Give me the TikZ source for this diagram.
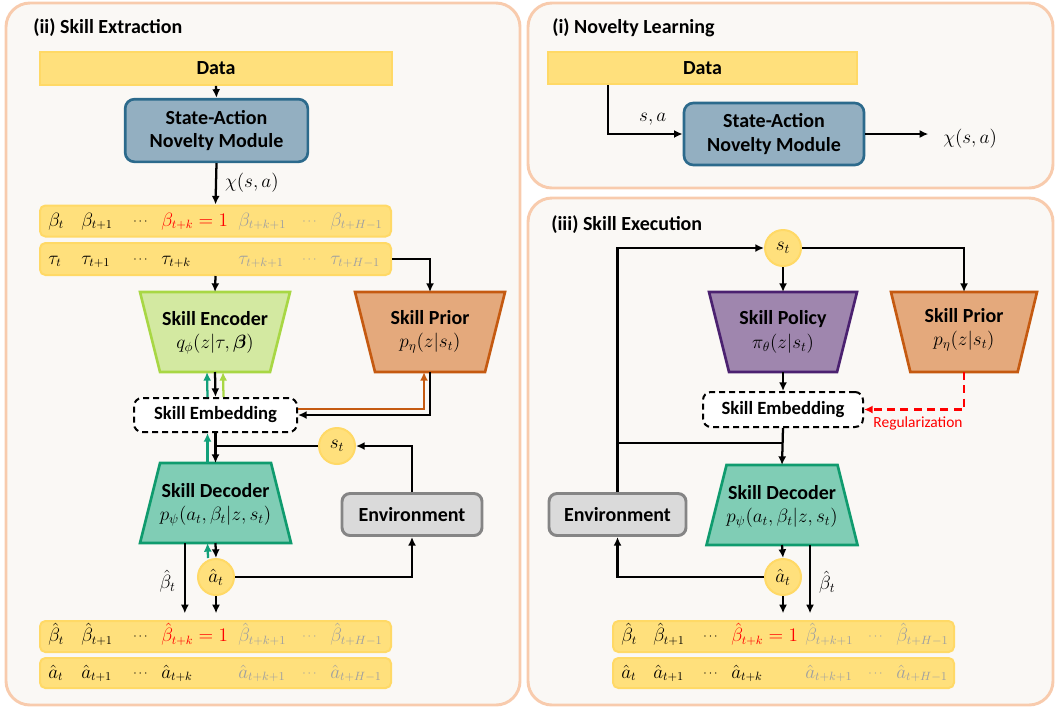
\documentclass[tikz,border=0pt]{standalone}
\usepackage{amsmath}
\usepackage{fontspec}
\setmainfont{Carlito}
\usetikzlibrary{arrows.meta,calc}
\definecolor{panelb}{HTML}{F8CBAD}
\definecolor{panelf}{HTML}{FAF8F5}
\definecolor{yel}{HTML}{FFE07C}
\definecolor{yelb}{HTML}{FFD966}
\definecolor{novf}{HTML}{93AFC1}
\definecolor{novb}{HTML}{2C6A8C}
\definecolor{encf}{HTML}{D3E9A1}
\definecolor{encb}{HTML}{A8D744}
\definecolor{prif}{HTML}{E4A97C}
\definecolor{prib}{HTML}{C55A11}
\definecolor{decf}{HTML}{80CDB5}
\definecolor{decb}{HTML}{0F9B6E}
\definecolor{polf}{HTML}{9F86AE}
\definecolor{polb}{HTML}{4B2170}
\definecolor{envf}{HTML}{DADADA}
\definecolor{envb}{HTML}{858585}
\definecolor{grn}{HTML}{12A07A}
\definecolor{fade}{HTML}{A0A0A0}
\definecolor{regred}{HTML}{FF0000}
\tikzset{
  panel/.style={draw=panelb, fill=panelf, line width=2.2pt, rounded corners=18pt},
  ptitle/.style={anchor=west, font=\bfseries\fontsize{15}{18}\selectfont, inner sep=0pt},
  databar/.style={fill=yel, draw=yelb, line width=1.2pt, font=\bfseries\fontsize{15}{18}\selectfont},
  rowbar/.style={fill=yel, draw=yelb, line width=1.5pt, rounded corners=4pt, minimum width=263.25pt, minimum height=23.25pt},
  novbox/.style={fill=novf, draw=novb, line width=2pt, rounded corners=7pt, align=center, font=\bfseries\fontsize{15}{17.5}\selectfont, minimum width=137pt, minimum height=47pt},
  frame/.style={draw=none, outer sep=0pt, inner sep=0pt, minimum height=60pt},
  lbl/.style={align=center, font=\bfseries\fontsize{15}{17.5}\selectfont, inner sep=0pt},
  embbox/.style={fill=white, draw=black, line width=1.5pt, dash pattern=on 4.5pt off 3pt, rounded corners=6pt, font=\bfseries\fontsize{14}{17}\selectfont},
  envbox/.style={fill=envf, draw=envb, line width=2.2pt, rounded corners=6pt, font=\bfseries\fontsize{15}{18}\selectfont, minimum height=31.5pt},
  circ/.style={circle, fill=yel, draw=yelb, line width=1.5pt, minimum size=27pt, inner sep=0pt, font=\fontsize{14.5}{16}\selectfont},
  item/.style={anchor=base west, inner sep=0pt, font=\fontsize{13.5}{15}\selectfont},
  arr/.style={-{Latex[length=6.5pt,width=6pt]}, line width=1.7pt, black},
  plain/.style={line width=1.7pt, black},
  garr/.style={arr, draw=grn, -{Latex[length=6.5pt,width=6pt,fill=grn]}},
  larr/.style={arr, draw=encb, -{Latex[length=6.5pt,width=6pt,fill=encb]}},
  oarr/.style={arr, draw=prib, -{Latex[length=6.5pt,width=6pt,fill=prib]}},
  rarr/.style={draw=regred, line width=2pt, dash pattern=on 6pt off 4pt, -{Latex[length=6.5pt,width=6pt,fill=regred]}},
  mlab/.style={font=\fontsize{14.5}{16}\selectfont},
}
\newcommand\trapwide[3]{\draw[#2] (#1.north west) -- (#1.north east) -- ([xshift=-#3]#1.south east) -- ([xshift=#3]#1.south west) -- cycle;}
\newcommand\trapnarrow[3]{\draw[#2] ([xshift=#3]#1.north west) -- ([xshift=-#3]#1.north east) -- (#1.south east) -- (#1.south west) -- cycle;}
\newcommand\fillrow[2]{\foreach \dx/\txt/\col [count=\i] in {#2} {\node[item, text=\col] (#1-\i) at ([xshift=\dx*0.75, yshift=-3.75pt]#1.west) {\txt};}}
\newcommand\sdots{\raisebox{1.2pt}{\fontsize{9.5}{10}\selectfont$\cdots$}}
\begin{document}
\begin{tikzpicture}[x=0.75pt,y=-0.75pt]
\useasboundingbox (0,0) rectangle (1055,711);
% panels
\draw[panel] (6,3) rectangle (520,705);
\draw[panel] (528,3) rectangle (1053,188);
\draw[panel] (528,198) rectangle (1053,705);
\node[ptitle] (t2) at (33,28) {(ii) Skill Extraction};
\node[ptitle] (t1) at (552,28) {(i) Novelty Learning};
\node[ptitle] (t3) at (551,225) {(iii) Skill Execution};

% ================= (ii) Skill Extraction =================
\node[databar, minimum width=264pt, minimum height=24.75pt] (datal) at (216,68.5) {Data};
\node[novbox] (novl) at (216.5,130.5) {State-Action\\Novelty Module};
\node[rowbar] (betal) at (215.5,221) {};
\node[rowbar, minimum height=24pt] (taul) at (215.5,259) {};
\fillrow{betal}{9/{$\beta_t$}/black, 42/{$\beta_{t+1}$}/black, 94/{\sdots}/black, 122/{$\beta_{t+k}=1$}/regred, 199/{$\beta_{t+k+1}$}/fade, 263/{\sdots}/fade, 291/{$\beta_{t+H-1}$}/fade}
\fillrow{taul}{9/{$\tau_t$}/black, 42/{$\tau_{t+1}$}/black, 94/{\sdots}/black, 122/{$\tau_{t+k}$}/black, 199/{$\tau_{t+k+1}$}/fade, 263/{\sdots}/fade, 291/{$\tau_{t+H-1}$}/fade}

\node[frame, minimum width=112.5pt] (enc) at (215,332) {};
\trapwide{enc}{fill=encf, draw=encb, line width=2pt}{15pt}
\node[lbl] (enc-t) at (215,333) {Skill Encoder\\{\mdseries\fontsize{14.5}{17}\selectfont $q_\phi(z|\tau,\boldsymbol{\beta})$}};

\node[frame, minimum width=112.5pt] (priorl) at (430,332) {};
\trapwide{priorl}{fill=prif, draw=prib, line width=2pt}{15pt}
\node[lbl] (priorl-t) at (430,332) {Skill Prior\\{\mdseries\fontsize{14.5}{17}\selectfont $p_\eta(z|s_t)$}};

\node[embbox, minimum width=122.25pt, minimum height=25.5pt] (embl) at (215.5,415) {Skill Embedding};
\node[circ] (stl) at (337,446) {$s_t$};
\node[envbox, minimum width=105pt] (envl) at (412,514.5) {Environment};

\node[frame, minimum width=113.25pt] (decl) at (215.5,503) {};
\trapnarrow{decl}{fill=decf, draw=decb, line width=2pt}{15pt}
\node[lbl] (decl-t) at (215.5,505) {Skill Decoder\\{\mdseries\fontsize{14.5}{17}\selectfont $p_\psi(a_t,\beta_t|z,s_t)$}};

\node[circ] (atl) at (216,577) {$\hat{a}_t$};
\node[rowbar] (bhatl) at (215.5,636.5) {};
\node[rowbar, minimum height=22.5pt] (ahatl) at (215.5,673) {};
\fillrow{bhatl}{9/{$\hat\beta_t$}/black, 42/{$\hat\beta_{t+1}$}/black, 94/{\sdots}/black, 122/{$\hat\beta_{t+k}=1$}/regred, 199/{$\hat\beta_{t+k+1}$}/fade, 263/{\sdots}/fade, 291/{$\hat\beta_{t+H-1}$}/fade}
\fillrow{ahatl}{9/{$\hat a_t$}/black, 42/{$\hat a_{t+1}$}/black, 94/{\sdots}/black, 122/{$\hat a_{t+k}$}/black, 199/{$\hat a_{t+k+1}$}/fade, 263/{\sdots}/fade, 291/{$\hat a_{t+H-1}$}/fade}

% connectors (ii)
\draw[arr] (datal.south) -- (novl.north);
\draw[arr] (novl.south) -- node[right, pos=0.48, inner sep=6pt, mlab] (chil) {$\chi(s,a)$} (betal.north);
\draw[arr] (taul.south) -- (enc.north);
\draw[arr] (taul.east) -| (priorl.north);
\draw[arr] (enc.south) -- (embl.north);
\draw[garr] ([xshift=-6pt]embl.north) -- ([xshift=-6pt]enc.south);
\draw[larr] ([xshift=6pt]embl.north) -- ([xshift=6pt]enc.south);
\draw[arr] (priorl.south) |- (embl.east);
\draw[oarr] ([yshift=4.5pt]embl.east) -| ([xshift=-4.5pt]priorl.south);
\draw[arr] (embl.south) -- (decl.north);
\draw[garr] ([xshift=-6pt]decl.north) -- ([xshift=-6pt]embl.south);
\coordinate (jl) at (216,446);
\draw[plain] (stl.west) -- (jl);
\draw[arr] (envl.north) |- (stl.east);
\draw[arr] (decl.south) -- (atl.north);
\draw[garr] ([xshift=-6pt]atl.north) -- ([xshift=-6pt]decl.south);
\draw[arr] (atl.east) -| (envl.south);
\draw[arr, shorten >=5pt] ([xshift=-23pt]decl.south) -- node[left, inner sep=6pt, mlab] (bl) {$\hat\beta_t$} ([xshift=-23pt]bhatl.north);
\draw[arr, shorten >=5pt] (atl.south) -- (atl.south |- bhatl.north);

% ================= (i) Novelty Learning =================
\node[databar, minimum width=231.75pt, minimum height=24pt] (datar) at (702.5,68) {Data};
\node[novbox, minimum width=135pt, minimum height=46.5pt] (novr) at (774,134) {State-Action\\Novelty Module};
\node[anchor=west, inner sep=0pt, mlab] (chir) at (943,139) {$\chi(s,a)$};
\draw[arr] ([xshift=-70.9pt]datar.south) |- node[pos=0.8, above, inner sep=6pt, mlab] (sa) {$s,a$} (novr.west);
\draw[arr, shorten >=11pt] (novr.east) -- (novr.east -| chir.west);

% ================= (iii) Skill Execution =================
\node[circ] (str) at (783,248) {$s_t$};
\node[frame, minimum width=111pt] (pol) at (783,332) {};
\trapwide{pol}{fill=polf, draw=polb, line width=2pt}{15pt}
\node[lbl] (pol-t) at (783,332) {Skill Policy\\{\mdseries\fontsize{14.5}{17}\selectfont $\pi_\theta(z|s_t)$}};
\node[frame, minimum width=109.5pt] (priorr) at (964,332) {};
\trapwide{priorr}{fill=prif, draw=prib, line width=2pt}{14.5pt}
\node[lbl] (priorr-t) at (964,330) {Skill Prior\\{\mdseries\fontsize{14.5}{17}\selectfont $p_\eta(z|s_t)$}};
\node[embbox, minimum width=120pt, minimum height=26.25pt] (embr) at (783,409.5) {Skill Embedding};
\node[envbox, minimum width=102.75pt] (envr) at (617.5,514.5) {Environment};
\node[frame, minimum width=113.25pt] (decr) at (782,505) {};
\trapnarrow{decr}{fill=decf, draw=decb, line width=2pt}{15pt}
\node[lbl] (decr-t) at (782,507) {Skill Decoder\\{\mdseries\fontsize{14.5}{17}\selectfont $p_\psi(a_t,\beta_t|z,s_t)$}};
\node[circ] (atr) at (783,577) {$\hat{a}_t$};
\node[rowbar, minimum width=255.75pt] (bhatr) at (783.5,636.5) {};
\node[rowbar, minimum width=255.75pt, minimum height=22.5pt] (ahatr) at (783.5,673) {};
\fillrow{bhatr}{9/{$\hat\beta_t$}/black, 41/{$\hat\beta_{t+1}$}/black, 91/{\sdots}/black, 119/{$\hat\beta_{t+k}=1$}/regred, 193/{$\hat\beta_{t+k+1}$}/fade, 256/{\sdots}/fade, 284/{$\hat\beta_{t+H-1}$}/fade}
\fillrow{ahatr}{9/{$\hat a_t$}/black, 41/{$\hat a_{t+1}$}/black, 91/{\sdots}/black, 119/{$\hat a_{t+k}$}/black, 193/{$\hat a_{t+k+1}$}/fade, 256/{\sdots}/fade, 284/{$\hat a_{t+H-1}$}/fade}

% connectors (iii)
\draw[arr] (envr.north) |- (str.west);
\coordinate (jr) at (783,443);
\draw[plain] (jr -| envr.north) -- (jr);
\draw[arr] (str.south) -- (pol.north);
\draw[arr] (str.east) -| (priorr.north);
\draw[arr] (pol.south) -- (embr.north);
\draw[rarr] (priorr.south) |- (embr.east);
\node[text=regred, font=\fontsize{11.6}{14}\selectfont, inner sep=0pt] (reg) at (918,423) {Regularization};
\draw[arr] (embr.south) -- (decr.north);
\draw[arr] (decr.south) -- (atr.north);
\draw[arr] (atr.west) -| (envr.south);
\draw[arr, shorten >=5pt] ([xshift=21pt]decr.south) -- node[right, inner sep=6pt, mlab] (br) {$\hat\beta_t$} ([xshift=21pt]decr.south |- bhatr.north);
\draw[arr, shorten >=5pt] (atr.south) -- (atr.south |- bhatr.north);
\end{tikzpicture}
\end{document}
